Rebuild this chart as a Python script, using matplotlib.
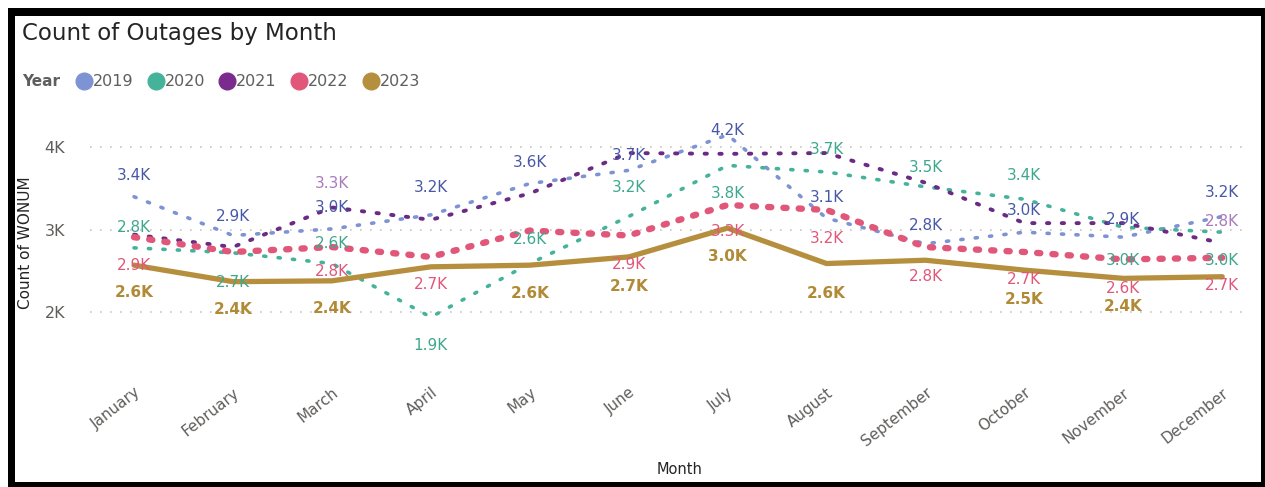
import numpy as np
import matplotlib
matplotlib.use("Agg")
import matplotlib.pyplot as plt
from matplotlib.patches import Rectangle
from matplotlib.lines import Line2D

# ─── Datos ────────────────────────────────────────────────────
MONTHS = ["January", "February", "March", "April", "May", "June", "July",
          "August", "September", "October", "November", "December"]
YEARS = ["2019", "2020", "2021", "2022", "2023"]

v2019 = [3400, 2930, 3010, 3180, 3560, 3720, 4150, 3140, 2830, 2970, 2910, 3160]
v2020 = [2780, 2720, 2590, 1940, 2590, 3160, 3780, 3700, 3520, 3370, 3030, 2970]
v2021 = [2940, 2790, 3270, 3120, 3440, 3930, 3920, 3930, 3570, 3080, 3080, 2840]
v2022 = [2910, 2730, 2790, 2670, 2990, 2930, 3300, 3240, 2790, 2730, 2640, 2660]
v2023 = [2570, 2370, 2380, 2550, 2570, 2670, 3020, 2590, 2630, 2510, 2410, 2430]
VALUES = [v2019, v2020, v2021, v2022, v2023]

# etiquetas visibles: desplazamiento vertical en px (negativo = arriba), None = oculta
LBL2019 = [-21, -19, -21, -27, -21, -15, -4, -21, -18, -22, -18, -24]
LBL2020 = [-20, 30, -20, 28, -24, -29, 28, -22, -19, -24, 33, 28]
LBL2021 = [None, None, -24, None, None, None, None, None, None, None, None, -21]
LBL2022 = [28, None, 24, 28, None, 29, 27, 29, 29, 28, 29, 28]
LBL2023 = [27, 28, 28, None, 28, 30, 28, 30, None, 29, 28, None]
LABELS = [LBL2019, LBL2020, LBL2021, LBL2022, LBL2023]

LINE_COLORS = ["#7E93D4", "#45B29A", "#6B2A84", "#E1577A", "#B58F3D"]
TEXT_COLORS = ["#4858A8", "#3DA88E", "#A87BBC", "#E1577A", "#B08A36"]
LEGEND_COLORS = ["#7E93D4", "#45B29A", "#7A2C8E", "#E1577A", "#B58F3D"]

def fmt_k(v):
    return f"{v/1000:.1f}K"

fig = plt.figure(figsize=(12.65, 4.87), dpi=100)
ax = fig.add_axes([90/1265, 1-360/487, (1245-90)/1265, (360-125)/487])

x = np.arange(len(MONTHS))
styles = [
    dict(linestyle=(0, (0.6, 3.4)), linewidth=2.6, dash_capstyle="round"),
    dict(linestyle=(0, (0.6, 3.4)), linewidth=2.6, dash_capstyle="round"),
    dict(linestyle=(0, (0.6, 3.2)), linewidth=2.8, dash_capstyle="round"),
    dict(linestyle=(0, (0.5, 1.9)), linewidth=4.6, dash_capstyle="round"),
    dict(linestyle="-", linewidth=3.8, solid_capstyle="round"),
]
for vals, col, st in zip(VALUES, LINE_COLORS, styles):
    ax.plot(x, vals, color=col, **st, zorder=3)

for i, (vals, offs, tcol) in enumerate(zip(VALUES, LABELS, TEXT_COLORS)):
    for xi, (v, off) in enumerate(zip(vals, offs)):
        if off is None:
            continue
        ax.annotate(fmt_k(v), (xi, v), xytext=(0, -off),
                    textcoords="offset pixels", ha="center", va="center",
                    fontsize=11, color=tcol,
                    fontweight="bold" if i == 4 else "normal", zorder=4)

ax.set_xlim(-0.445, 11.23)
ax.set_ylim(1420, 4270)
ax.set_yticks([2000, 3000, 4000])
ax.set_yticklabels(["2K", "3K", "4K"])
ax.set_xticks(x)
ax.set_xticklabels(MONTHS, rotation=38, ha="right", va="top",
                   rotation_mode="anchor", fontsize=11, color="#605E5C")
ax.tick_params(axis="x", length=0, pad=18)
ax.tick_params(axis="y", length=0, pad=18, labelsize=11.5, labelcolor="#605E5C")
for s in ax.spines.values():
    s.set_visible(False)
ax.grid(True, axis="y", color="#C8C6C4", linestyle=(0, (1, 5)), linewidth=1.2)
ax.set_axisbelow(True)

ax.set_ylabel("Count of WONUM", fontsize=11, color="#252423", labelpad=8)
fig.text(680/1265, 1-470/487, "Month", fontsize=10.5, color="#252423",
         ha="center", va="center")

# título y leyenda
fig.text(22/1265, 1-33/487, "Count of Outages by Month", fontsize=16.5,
         color="#252423", ha="left", va="center")
fig.text(22/1265, 1-82/487, "Year", fontsize=11, fontweight="bold",
         color="#605E5C", ha="left", va="center")
handles = [Line2D([], [], marker="o", linestyle="", markersize=12,
                  markerfacecolor=c, markeredgecolor=c) for c in LEGEND_COLORS]
fig.legend(handles, YEARS, loc="center left", bbox_to_anchor=(76/1265, 1-82/487),
           ncol=5, frameon=False, fontsize=11.5, handletextpad=0.05,
           columnspacing=0.9, handlelength=1.0, labelcolor="#605E5C",
           borderaxespad=0, borderpad=0)

# marco negro de la captura
frame = dict(transform=fig.transFigure, facecolor="black", edgecolor="none",
             clip_on=False)
fig.patches.append(Rectangle((8/1265, 0), 7/1265, 1-8/487, **frame))
fig.patches.append(Rectangle((8/1265, 1-16/487), 1-8/1265, 8/487, **frame))
fig.patches.append(Rectangle((1261/1265, 0), 4/1265, 1-8/487, **frame))
fig.patches.append(Rectangle((8/1265, 0), 1-8/1265, 5/487, **frame))

fig.savefig("out.png", dpi=100)
